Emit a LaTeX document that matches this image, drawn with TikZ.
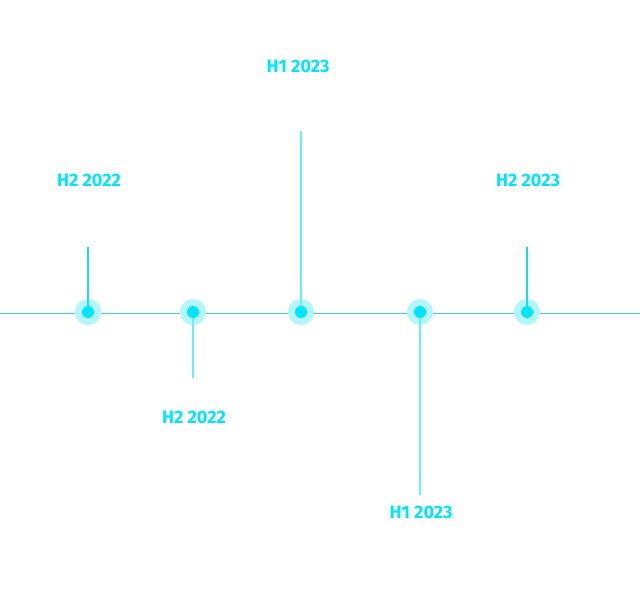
\documentclass[tikz,border=0pt]{standalone}
\usepackage{fontspec}
\setmainfont{Fira Sans}
\definecolor{axis}{RGB}{70,205,225}
\definecolor{dotc}{RGB}{0,229,255}
\definecolor{halo}{RGB}{176,246,252}
\definecolor{stemdark}{RGB}{30,216,236}
\definecolor{stemlight}{RGB}{102,240,255}
\definecolor{txt}{RGB}{0,229,255}
\tikzset{
  halo/.style={circle,fill=halo,minimum size=26pt,inner sep=0pt},
  dot/.style={circle,fill=dotc,minimum size=12pt,inner sep=0pt},
  lbl/.style={text=txt,font=\fontsize{18}{21}\selectfont\bfseries},
  stemd/.style={draw=stemdark,line width=2pt},
  steml/.style={draw=stemlight,line width=2pt},
}
\begin{document}
\begin{tikzpicture}[x=1pt,y=-1pt]
\useasboundingbox (0,0) rectangle (640,600);
\coordinate (L) at (0,313);
\coordinate (R) at (640,313);
\draw[axis,line width=1pt] (L) -- (R);
% tops of stems
\coordinate (s1) at (88,247);
\coordinate (s2) at (193,378);
\coordinate (s3) at (301,131);
\coordinate (s4) at (420,495);
\coordinate (s5) at (527,247);
\node[halo] (h1) at (88,312) {};
\node[halo] (h2) at (193,312) {};
\node[halo] (h3) at (301,312) {};
\node[halo] (h4) at (420,312) {};
\node[halo] (h5) at (527,312) {};
\draw[stemd] (h1.center) -- (s1);
\draw[steml] (h2.center) -- (s2);
\draw[steml] (h3.center) -- (s3);
\draw[steml] (h4.center) -- (s4);
\draw[stemd] (h5.center) -- (s5);
\node[dot] (d1) at (h1) {};
\node[dot] (d2) at (h2) {};
\node[dot] (d3) at (h3) {};
\node[dot] (d4) at (h4) {};
\node[dot] (d5) at (h5) {};
\node[lbl] (t1) at (89,180) {H2 2022};
\node[lbl] (t2) at (194,417) {H2 2022};
\node[lbl] (t3) at (298,66) {H1 2023};
\node[lbl] (t4) at (421,512) {H1 2023};
\node[lbl] (t5) at (528,180) {H2 2023};
\end{tikzpicture}
\end{document}
